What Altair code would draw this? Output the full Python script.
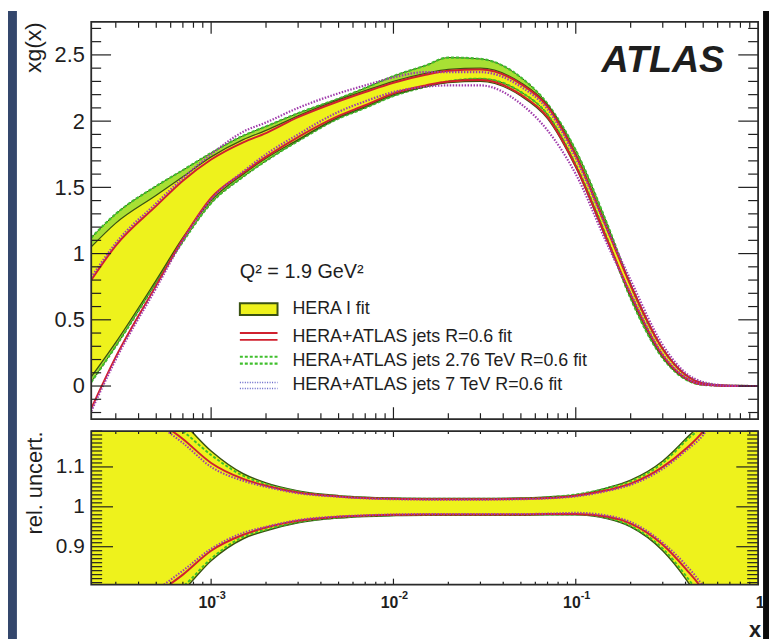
import altair as alt
import pandas as pd

# ---------------- data ----------------
X = [0.00022, 0.0003, 0.0005, 0.0007, 0.001, 0.0015, 0.002, 0.003, 0.005, 0.007,
     0.01, 0.015, 0.02, 0.03, 0.05, 0.07, 0.1, 0.15, 0.2, 0.3, 0.4, 0.5, 0.7, 1.0]

# upper panel: xg(x) bands
HERA_LO = [0.07, 0.33, 0.80, 1.12, 1.40, 1.60, 1.72, 1.86, 2.03, 2.11, 2.20, 2.26, 2.29, 2.30,
           2.19, 2.02, 1.65, 1.08, 0.68, 0.22, 0.055, 0.010, 0.001, 0.0]
HERA_HI = [1.05, 1.23, 1.44, 1.58, 1.73, 1.86, 1.93, 2.04, 2.16, 2.23, 2.30, 2.36, 2.39, 2.40,
           2.29, 2.12, 1.75, 1.18, 0.77, 0.28, 0.085, 0.022, 0.002, 0.0]
G276_LO = [0.03, 0.30, 0.78, 1.09, 1.38, 1.58, 1.70, 1.85, 2.02, 2.10, 2.19, 2.26, 2.30, 2.32,
           2.22, 2.05, 1.67, 1.10, 0.66, 0.21, 0.05, 0.009, 0.001, 0.0]
G276_HI = [1.12, 1.30, 1.51, 1.63, 1.76, 1.89, 1.96, 2.06, 2.17, 2.25, 2.34, 2.42, 2.48, 2.47,
           2.33, 2.13, 1.78, 1.21, 0.76, 0.28, 0.085, 0.022, 0.002, 0.0]
R06_LO = [-0.17, 0.22, 0.76, 1.11, 1.42, 1.61, 1.73, 1.88, 2.04, 2.12, 2.21, 2.27, 2.30, 2.31,
          2.20, 2.03, 1.66, 1.09, 0.69, 0.23, 0.06, 0.011, 0.001, 0.0]
R06_HI = [0.80, 1.06, 1.36, 1.55, 1.71, 1.84, 1.91, 2.03, 2.15, 2.22, 2.29, 2.35, 2.38, 2.39,
          2.28, 2.11, 1.74, 1.17, 0.76, 0.28, 0.085, 0.02, 0.002, 0.0]
J7_LO = [-0.19, 0.20, 0.74, 1.10, 1.41, 1.62, 1.75, 1.90, 2.07, 2.15, 2.22, 2.26, 2.27, 2.27,
         2.13, 1.93, 1.60, 1.06, 0.70, 0.24, 0.065, 0.012, 0.001, 0.0]
J7_HI = [0.82, 1.08, 1.38, 1.57, 1.75, 1.92, 1.99, 2.10, 2.21, 2.27, 2.33, 2.37, 2.37, 2.37,
         2.26, 2.09, 1.72, 1.17, 0.80, 0.31, 0.10, 0.03, 0.003, 0.0]

# lower panel: relative uncertainties
HREL_HI = [1.45, 1.36, 1.26, 1.21, 1.14, 1.083, 1.06, 1.04, 1.028, 1.024, 1.022, 1.021, 1.021, 1.021,
           1.022, 1.025, 1.03, 1.048, 1.067, 1.115, 1.17, 1.22, 1.40, 1.60]
HREL_LO = [0.55, 0.64, 0.74, 0.79, 0.865, 0.92, 0.94, 0.96, 0.972, 0.976, 0.978, 0.979, 0.979, 0.979,
           0.979, 0.98, 0.98, 0.97, 0.95, 0.89, 0.82, 0.75, 0.60, 0.40]
RREL_HI = [1.40, 1.32, 1.22, 1.17, 1.11, 1.07, 1.053, 1.036, 1.026, 1.022, 1.02, 1.019, 1.019, 1.019,
           1.02, 1.022, 1.028, 1.042, 1.058, 1.10, 1.145, 1.19, 1.32, 1.50]
RREL_LO = [0.60, 0.68, 0.78, 0.83, 0.89, 0.93, 0.948, 0.965, 0.975, 0.978, 0.98, 0.981, 0.981, 0.981,
           0.981, 0.982, 0.982, 0.975, 0.958, 0.905, 0.845, 0.79, 0.65, 0.45]
JREL_HI = [1.38, 1.30, 1.21, 1.16, 1.10, 1.065, 1.05, 1.034, 1.025, 1.021, 1.019, 1.018, 1.018, 1.018,
           1.019, 1.021, 1.026, 1.04, 1.055, 1.095, 1.14, 1.18, 1.30, 1.48]
JREL_LO = [0.62, 0.70, 0.79, 0.84, 0.895, 0.935, 0.95, 0.967, 0.976, 0.979, 0.981, 0.982, 0.982, 0.982,
           0.982, 0.983, 0.985, 0.978, 0.962, 0.91, 0.855, 0.80, 0.66, 0.47]
GREL_HI = [1.43, 1.34, 1.24, 1.19, 1.13, 1.078, 1.057, 1.038, 1.027, 1.023, 1.021, 1.02, 1.02, 1.02,
           1.021, 1.024, 1.031, 1.047, 1.064, 1.11, 1.165, 1.21, 1.38, 1.58]
GREL_LO = [0.57, 0.66, 0.76, 0.80, 0.87, 0.925, 0.943, 0.962, 0.973, 0.977, 0.979, 0.98, 0.98, 0.98,
           0.98, 0.981, 0.981, 0.972, 0.952, 0.895, 0.828, 0.765, 0.61, 0.42]

# axis ticks / labels
X_MAJOR = [0.001, 0.01, 0.1]
X_MINOR = [0.0003, 0.0004, 0.0005, 0.0006, 0.0007, 0.0008, 0.0009,
           0.002, 0.003, 0.004, 0.005, 0.006, 0.007, 0.008, 0.009,
           0.02, 0.03, 0.04, 0.05, 0.06, 0.07, 0.08, 0.09,
           0.2, 0.3, 0.4, 0.5, 0.6, 0.7, 0.8, 0.9]
X_DECADE_LABELS = [0.001, 0.01, 0.1]
X_DECADE_BASE = ["10", "10", "10"]
X_DECADE_EXP = ["-3", "-2", "-1"]
X_UNIT_LABEL = [1.0]
Y1_MAJOR = [0, 0.5, 1, 1.5, 2, 2.5]
Y1_MINOR = [-0.2, -0.1, 0.1, 0.2, 0.3, 0.4, 0.6, 0.7, 0.8, 0.9, 1.1, 1.2, 1.3, 1.4,
            1.6, 1.7, 1.8, 1.9, 2.1, 2.2, 2.3, 2.4, 2.6, 2.7]
Y2_MAJOR = [0.9, 1.0, 1.1]
Y2_MINOR = [round(0.81 + 0.01 * i, 2) for i in range(39) if round(0.81 + 0.01 * i, 2) not in (0.9, 1.0, 1.1)]

LEGEND_TITLE = "Q² = 1.9 GeV²"
LEGEND_LABELS = ["HERA I fit", "HERA+ATLAS jets R=0.6 fit",
                 "HERA+ATLAS jets 2.76 TeV R=0.6 fit", "HERA+ATLAS jets 7 TeV R=0.6 fit"]

# ---------------- style ----------------
W, H1, H2 = 673, 401, 155
FONT = "Liberation Sans"
INK = "#1e1e1e"
YELLOW = "#eef21c"
LGREEN = "#a8e034"
EDGE = "#3a5212"
GREEN = "#3fbf2c"
RED = "#d0202e"
PURPLE = "#a03cac"
BLUE = "#6464c8"
SLIDE = "#34476c"

XS = alt.Scale(type="log", domain=[0.00022, 1.0], nice=False)
YS1 = alt.Scale(domain=[-0.25, 2.75], nice=False, zero=False)
YS2 = alt.Scale(domain=[0.805, 1.19], nice=False, zero=False)
ONE = pd.DataFrame({"k": [0]})


def band(lo, hi, color, ys, xaxis=alt.Undefined, yaxis=alt.Undefined):
    df = pd.DataFrame({"x": X, "lo": lo, "hi": hi})
    return alt.Chart(df).mark_area(color=color, clip=True, interpolate="monotone").encode(
        x=alt.X("x:Q", scale=XS, axis=xaxis),
        y=alt.Y("lo:Q", scale=ys, axis=yaxis),
        y2="hi:Q",
    )


def edges(lo, hi, color, width, ys, dash=None):
    df = pd.DataFrame({"x": X + X, "y": list(lo) + list(hi),
                       "edge": ["lo"] * len(X) + ["hi"] * len(X)})
    kw = dict(color=color, strokeWidth=width, clip=True, interpolate="monotone")
    if dash:
        kw["strokeDash"] = dash
    return alt.Chart(df).mark_line(**kw).encode(
        x=alt.X("x:Q", scale=XS),
        y=alt.Y("y:Q", scale=ys),
        detail="edge:N",
    )


def x_ticks(vals, length, h):
    base = alt.Chart(pd.DataFrame({"v": vals})).mark_rule(color=INK, strokeWidth=1.2)
    xx = alt.X("v:Q", scale=XS)
    return [base.encode(x=xx, y=alt.value(h), y2=alt.value(h - length)),
            base.encode(x=xx, y=alt.value(0), y2=alt.value(length))]


def y_ticks(vals, length, ys):
    base = alt.Chart(pd.DataFrame({"v": vals})).mark_rule(color=INK, strokeWidth=1.2)
    yy = alt.Y("v:Q", scale=ys)
    return [base.encode(y=yy, x=alt.value(0), x2=alt.value(length)),
            base.encode(y=yy, x=alt.value(W - length), x2=alt.value(W))]


def strip(x0, x1, y0, y1, color):
    return alt.Chart(ONE).mark_rect(fill=color).encode(
        x=alt.value(x0), x2=alt.value(x1), y=alt.value(y0), y2=alt.value(y1))


def frame(h):
    return alt.Chart(ONE).mark_rect(fill="transparent", stroke="#2a2a2a", strokeWidth=1.8).encode(
        x=alt.value(0), x2=alt.value(W), y=alt.value(0), y2=alt.value(h))


def text(s, x, y, size, weight="normal", style="normal", align="left"):
    return alt.Chart(pd.DataFrame({"t": [s]})).mark_text(
        font=FONT, fontSize=size, fontWeight=weight, fontStyle=style, color=INK,
        align=align, baseline="middle").encode(x=alt.value(x), y=alt.value(y), text="t:N")


def hrule(x0, x1, y, color, width, dash=None):
    kw = dict(color=color, strokeWidth=width)
    if dash:
        kw["strokeDash"] = dash
    return alt.Chart(ONE).mark_rule(**kw).encode(x=alt.value(x0), x2=alt.value(x1), y=alt.value(y))


# ---------------- upper panel ----------------
y1_axis = alt.Axis(values=Y1_MAJOR, format="~g", title="xg(x)", titleAnchor="end",
                   titleFontSize=23, titleFontWeight="normal", titlePadding=9,
                   labelFontSize=22, labelPadding=7, ticks=False, domain=False, grid=False)

upper_layers = [
    strip(-84, -75, -11, H1 + 12, SLIDE),
    strip(W + 5, W + 11, -11, H1 + 12, "#0c0c0c"),
    band(G276_LO, G276_HI, LGREEN, YS1, None, y1_axis),
    band(HERA_LO, HERA_HI, YELLOW, YS1),
    edges(G276_LO, G276_HI, EDGE, 1.0, YS1),
    edges(G276_LO, G276_HI, GREEN, 2.2, YS1, [3, 2]),
    edges(HERA_LO, HERA_HI, EDGE, 1.3, YS1),
    edges(R06_LO, R06_HI, RED, 2.0, YS1),
    edges(J7_LO, J7_HI, PURPLE, 2.2, YS1, [1.5, 1.5]),
]
upper_layers += x_ticks(X_MAJOR, 12, H1) + x_ticks(X_MINOR, 6, H1)
upper_layers += y_ticks(Y1_MAJOR, 20, YS1) + y_ticks(Y1_MINOR, 10, YS1)
upper_layers += [frame(H1)]

# annotation and legend
upper_layers += [
    text("ATLAS", 515, 40, 38, "bold", "italic"),
    text(LEGEND_TITLE, 150, 253, 20),
    alt.Chart(ONE).mark_rect(fill=YELLOW, stroke=EDGE, strokeWidth=2).encode(
        x=alt.value(150), x2=alt.value(188), y=alt.value(284), y2=alt.value(296)),
    hrule(150, 188, 314, RED, 2),
    hrule(150, 188, 321, RED, 2),
    hrule(150, 188, 338, GREEN, 2.2, [3, 2]),
    hrule(150, 188, 345, GREEN, 2.2, [3, 2]),
    hrule(150, 188, 364, BLUE, 1.5, [1, 1.5]),
    hrule(150, 188, 370, BLUE, 1.5, [1, 1.5]),
    text(LEGEND_LABELS[0], 203, 290, 18),
    text(LEGEND_LABELS[1], 203, 318, 18),
    text(LEGEND_LABELS[2], 203, 342, 18),
    text(LEGEND_LABELS[3], 203, 367, 18),
]

upper = alt.layer(*upper_layers).properties(width=W, height=H1)

# ---------------- lower panel ----------------
y2_axis = alt.Axis(values=Y2_MAJOR, format="~g", title="rel. uncert.", titleAnchor="end",
                   titleFontSize=22, titleFontWeight="normal", titlePadding=9,
                   labelFontSize=21, labelPadding=7, ticks=False, domain=False, grid=False)

dec_df = pd.DataFrame({"v": X_DECADE_LABELS, "base": X_DECADE_BASE, "exp": X_DECADE_EXP})
unit_df = pd.DataFrame({"v": X_UNIT_LABEL, "t": ["1"]})
lab_base = alt.Chart(dec_df).mark_text(font=FONT, fontSize=16, fontWeight="bold", color=INK,
                                       align="right", baseline="middle", dx=5).encode(
    x=alt.X("v:Q", scale=XS), y=alt.value(H2 + 19), text="base:N")
lab_exp = alt.Chart(dec_df).mark_text(font=FONT, fontSize=11, fontWeight="bold", color=INK,
                                      align="left", baseline="middle", dx=5).encode(
    x=alt.X("v:Q", scale=XS), y=alt.value(H2 + 12), text="exp:N")
lab_unit = alt.Chart(unit_df).mark_text(font=FONT, fontSize=16, fontWeight="bold", color=INK,
                                        align="center", baseline="middle", dx=2).encode(
    x=alt.X("v:Q", scale=XS), y=alt.value(H2 + 19), text="t:N")

lower_layers = [
    strip(-84, -75, 0, 210, SLIDE),
    strip(W + 5, W + 11, 0, 210, "#0c0c0c"),
    band(HREL_LO, HREL_HI, YELLOW, YS2, None, y2_axis),
    edges(HREL_LO, HREL_HI, EDGE, 1.5, YS2),
    edges(GREL_LO, GREL_HI, GREEN, 2.0, YS2, [3, 2]),
    edges(RREL_LO, RREL_HI, RED, 2.0, YS2),
    edges(JREL_LO, JREL_HI, PURPLE, 2.0, YS2, [1.5, 1.5]),
]
lower_layers += x_ticks(X_MAJOR, 6, H2) + x_ticks(X_MINOR, 3, H2)
lower_layers += y_ticks(Y2_MAJOR, 22, YS2) + y_ticks(Y2_MINOR, 11, YS2)
lower_layers += [frame(H2), lab_base, lab_exp, lab_unit,
                 text("x", W - 3, H2 + 46, 22, "bold", align="center")]

lower = alt.layer(*lower_layers).properties(width=W, height=H2)

chart = alt.vconcat(upper, lower, spacing=12, bounds="flush").configure(
    background="white",
    padding={"left": 0, "top": 0, "right": 0, "bottom": 0},
).configure_view(stroke=None).configure_axis(
    labelFont=FONT, titleFont=FONT, labelColor=INK, titleColor=INK
)

chart.save("out.html", embed_options={"renderer": "svg", "actions": False})
